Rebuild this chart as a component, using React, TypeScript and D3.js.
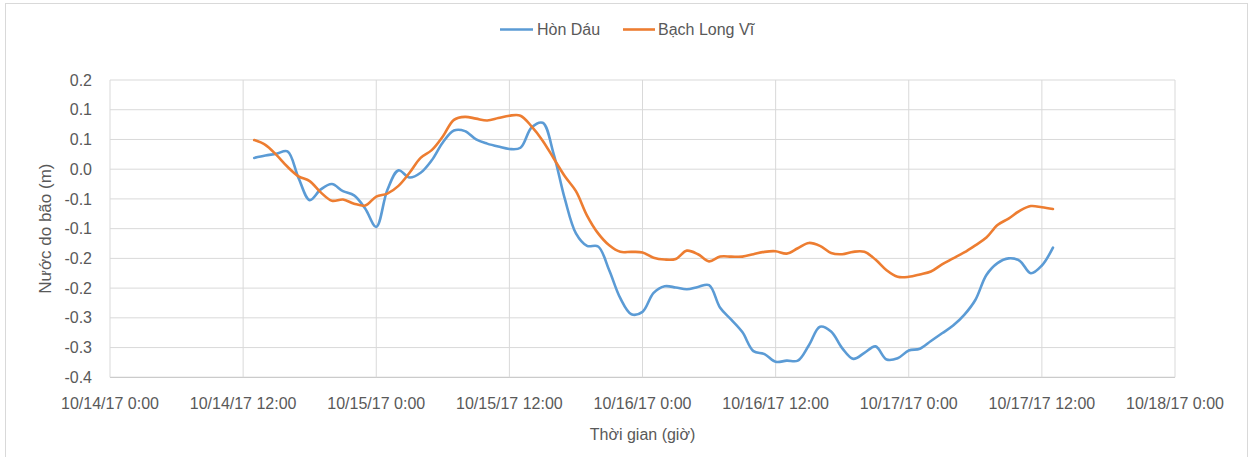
import React from "react";
import * as d3 from "d3";

const START = new Date(2017, 9, 14, 13, 0); // first hourly sample
const X_START = new Date(2017, 9, 14, 0, 0);
const X_END = new Date(2017, 9, 18, 0, 0);

const xTickLabels = [
  "10/14/17 0:00", "10/14/17 12:00", "10/15/17 0:00", "10/15/17 12:00",
  "10/16/17 0:00", "10/16/17 12:00", "10/17/17 0:00", "10/17/17 12:00", "10/18/17 0:00",
];
const yTickValues = [0.15, 0.1, 0.05, 0, -0.05, -0.1, -0.15, -0.2, -0.25, -0.3, -0.35];
const yTickLabels = ["0.2", "0.1", "0.1", "0.0", "-0.1", "-0.1", "-0.2", "-0.2", "-0.3", "-0.3", "-0.4"];

const seriesNames = ["Hòn Dáu", "Bạch Long Vĩ"];

// hourly values from 10/14/17 13:00
const honDau = [
  0.019, 0.023, 0.026, 0.030, -0.015, -0.052, -0.034, -0.025, -0.037, -0.044,
  -0.066, -0.097, -0.035, -0.002, -0.014, -0.006, 0.015, 0.045, 0.065, 0.064,
  0.050, 0.043, 0.038, 0.034, 0.036, 0.070, 0.078, 0.025, -0.050, -0.108,
  -0.129, -0.130, -0.170, -0.217, -0.244, -0.240, -0.208, -0.197, -0.199, -0.202,
  -0.198, -0.195, -0.233, -0.253, -0.274, -0.306, -0.311, -0.324, -0.322, -0.322,
  -0.296, -0.265, -0.273, -0.301, -0.319, -0.309, -0.298, -0.320, -0.318, -0.305,
  -0.302, -0.289, -0.276, -0.263, -0.245, -0.220, -0.178, -0.158, -0.150, -0.154,
  -0.175, -0.162, -0.132,
];
const bachLongVi = [
  0.049, 0.041, 0.024, 0.004, -0.012, -0.020, -0.039, -0.053, -0.051, -0.058,
  -0.061, -0.046, -0.041, -0.028, -0.006, 0.019, 0.032, 0.055, 0.083, 0.088,
  0.085, 0.082, 0.086, 0.090, 0.090, 0.072, 0.048, 0.018, -0.012, -0.037,
  -0.078, -0.108, -0.128, -0.139, -0.139, -0.140, -0.149, -0.152, -0.151, -0.137,
  -0.143, -0.155, -0.147, -0.147, -0.147, -0.143, -0.139, -0.138, -0.142, -0.133,
  -0.124, -0.129, -0.141, -0.143, -0.139, -0.139, -0.152, -0.170, -0.181, -0.181,
  -0.177, -0.172, -0.160, -0.150, -0.140, -0.128, -0.115, -0.094, -0.083, -0.070,
  -0.062, -0.064, -0.067,
];

const colors = ["#5B9BD5", "#ED7D31"];
const W = 1252;
const H = 457;
const PL = 110, PR = 1175, PT = 80, PB = 377.3;
const FONT = '"Liberation Sans", Arial, sans-serif';
const TXT = "#595959";
const FS = 16;

export default function App() {
  const x = d3.scaleTime().domain([X_START, X_END]).range([PL, PR]);
  const y = d3.scaleLinear().domain([-0.35, 0.15]).range([PB, PT]);
  const xTicks = d3.timeHour.every(12)!.range(X_START, d3.timeHour.offset(X_END, 1));

  const toPts = (vals: number[]) =>
    vals.map((v, i) => ({ t: d3.timeHour.offset(START, i), v }));
  const line = d3
    .line<{ t: Date; v: number }>()
    .x((d) => x(d.t))
    .y((d) => y(d.v))
    .curve(d3.curveCatmullRom.alpha(0.5));

  const series = [honDau, bachLongVi];

  return (
    <svg
      width={W}
      height={H}
      style={{ position: "absolute", left: 0, top: 0, background: "#fff" }}
      fontFamily={FONT}
    >
      <rect x={5.5} y={3.5} width={1242} height={470} fill="#fff" stroke="#d9d9d9" strokeWidth={1} />
      {/* horizontal gridlines */}
      {yTickValues.map((v, i) => (
        <line key={"h" + i} x1={PL} x2={PR} y1={y(v)} y2={y(v)} stroke={i === yTickValues.length - 1 ? "#bfbfbf" : "#d9d9d9"} strokeWidth={1} />
      ))}
      {/* vertical gridlines */}
      {xTicks.map((t, i) => (
        <line key={"v" + i} x1={x(t)} x2={x(t)} y1={PT} y2={PB} stroke="#d9d9d9" strokeWidth={1} />
      ))}
      {/* y tick labels */}
      {yTickValues.map((v, i) => (
        <text key={"yl" + i} x={92} y={y(v)} dy="0.35em" textAnchor="end" fontSize={FS} fill={TXT}>
          {yTickLabels[i]}
        </text>
      ))}
      {/* x tick labels */}
      {xTicks.map((t, i) => (
        <text key={"xl" + i} x={x(t)} y={409} textAnchor="middle" fontSize={FS} fill={TXT}>
          {xTickLabels[i]}
        </text>
      ))}
      {/* axis titles */}
      <text x={(PL + PR) / 2} y={440} textAnchor="middle" fontSize={FS} fill={TXT}>
        Thời gian (giờ)
      </text>
      <text
        transform={`translate(51,${(PT + PB) / 2}) rotate(-90)`}
        textAnchor="middle"
        fontSize={17}
        fill={TXT}
      >
        Nước do bão (m)
      </text>
      {/* series */}
      {series.map((s, i) => (
        <path key={"s" + i} d={line(toPts(s)) || ""} fill="none" stroke={colors[i]} strokeWidth={2.6} strokeLinejoin="round" strokeLinecap="round" />
      ))}
      {/* legend */}
      <g>
        <line x1={500} x2={533} y1={29.5} y2={29.5} stroke={colors[0]} strokeWidth={2.6} />
        <text x={537} y={29.5} dy="0.35em" fontSize={FS} fill={TXT}>{seriesNames[0]}</text>
        <line x1={623} x2={655} y1={29.5} y2={29.5} stroke={colors[1]} strokeWidth={2.6} />
        <text x={658} y={29.5} dy="0.35em" fontSize={FS} fill={TXT}>{seriesNames[1]}</text>
      </g>
    </svg>
  );
}
